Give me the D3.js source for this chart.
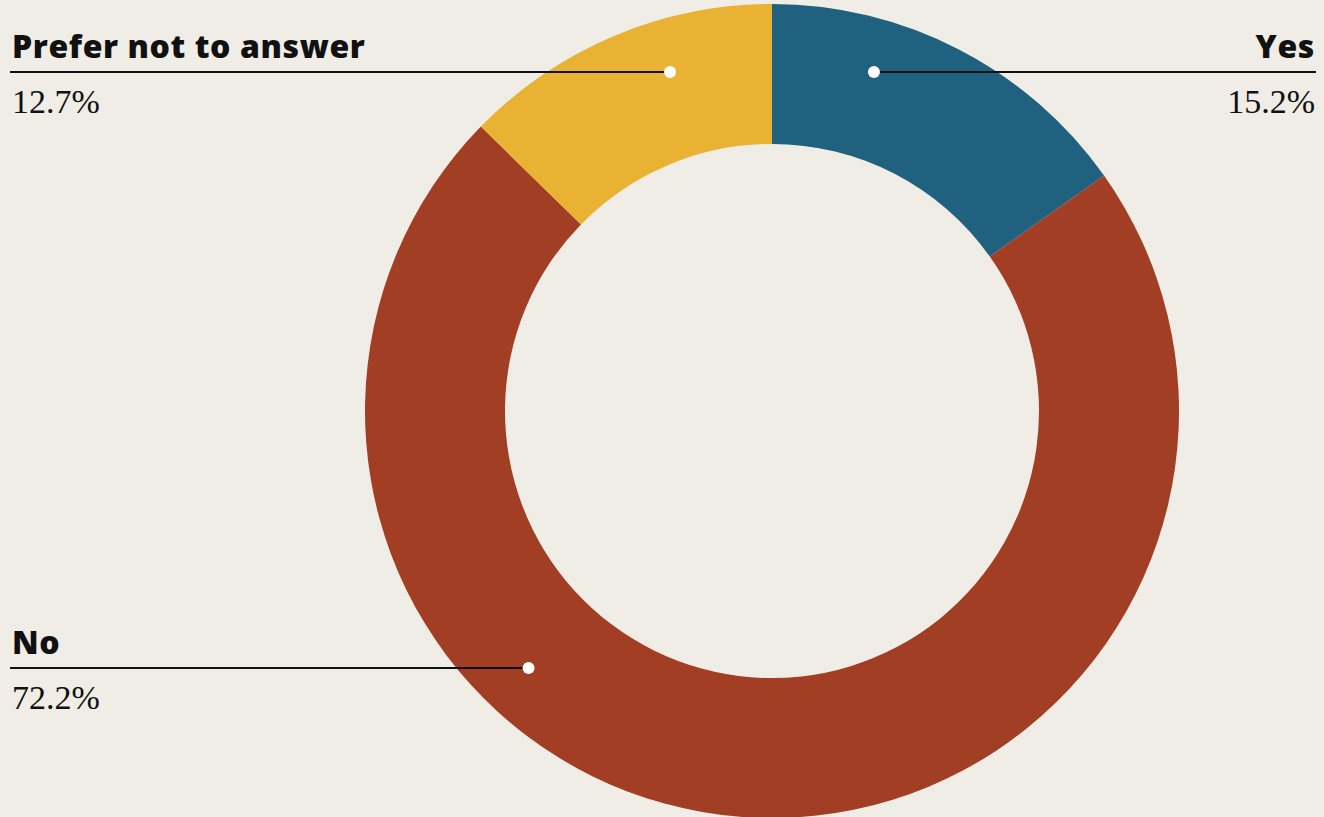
<!DOCTYPE html>
<html>
<head>
<meta charset="utf-8">
<script src="https://cdn.jsdelivr.net/npm/d3@7"></script>
<style>
  html, body { margin: 0; padding: 0; background: #f0ede6; }
  svg { display: block; }
</style>
</head>
<body>
<svg id="chart" width="1324" height="817"></svg>
<script>
// Survey answers, in clockwise order from 12 o'clock
const categories = ["Yes", "No", "Prefer not to answer"];
const shares = [15.2, 72.2, 12.7];
const shareLabels = ["15.2%", "72.2%", "12.7%"];
const colors = ["#1f617e", "#a13e23", "#e9b233"];

// Which side each callout sits on and its vertical offset from the centre
const calloutSide = ["right", "left", "left"];
const calloutDy = [-339, 257, -339];

const W = 1324, H = 817;
const cx = 772, cy = 411;
const outerR = 407, innerR = 267;
const dotR = 354;

const svg = d3.select("#chart");
svg.append("rect").attr("width", W).attr("height", H).attr("fill", "#f0ede6");

const data = categories.map((c, i) => ({
  name: c, value: shares[i], label: shareLabels[i], color: colors[i],
  side: calloutSide[i], dy: calloutDy[i]
}));

const pie = d3.pie().value(d => d.value).sort(null);
const arc = d3.arc().innerRadius(innerR).outerRadius(outerR);

const g = svg.append("g").attr("transform", `translate(${cx},${cy})`);
g.selectAll("path.slice")
  .data(pie(data))
  .join("path")
  .attr("class", "slice")
  .attr("d", arc)
  .attr("fill", d => d.data.color);

// Callouts: leader line from the page edge to a dot on the ring
const leftX = 10, rightX = 1316;
const callouts = svg.append("g");
data.forEach(d => {
  const sign = d.side === "right" ? 1 : -1;
  const dx = sign * Math.sqrt(dotR * dotR - d.dy * d.dy);
  const px = cx + dx, py = cy + d.dy;
  const edge = d.side === "right" ? rightX : leftX;
  const anchor = d.side === "right" ? "end" : "start";
  const tx = d.side === "right" ? rightX - 1 : leftX + 2;

  callouts.append("line")
    .attr("x1", edge).attr("x2", px)
    .attr("y1", py).attr("y2", py)
    .attr("stroke", "#111").attr("stroke-width", 2);
  callouts.append("circle")
    .attr("cx", px).attr("cy", py).attr("r", 6)
    .attr("fill", "#fff");
  callouts.append("text")
    .attr("x", tx).attr("y", py - 14)
    .attr("text-anchor", anchor)
    .attr("font-family", "'Open Sans', Lato, sans-serif")
    .attr("font-weight", 800)
    .attr("font-size", 32)
    .attr("letter-spacing", 0.6)
    .attr("fill", "#111")
    .text(d.name);
  callouts.append("text")
    .attr("x", tx).attr("y", py + 41)
    .attr("text-anchor", anchor)
    .attr("font-family", "'Liberation Serif', 'DejaVu Serif', serif")
    .attr("font-size", 34)
    .attr("fill", "#111")
    .text(d.label);
});
</script>
</body>
</html>
